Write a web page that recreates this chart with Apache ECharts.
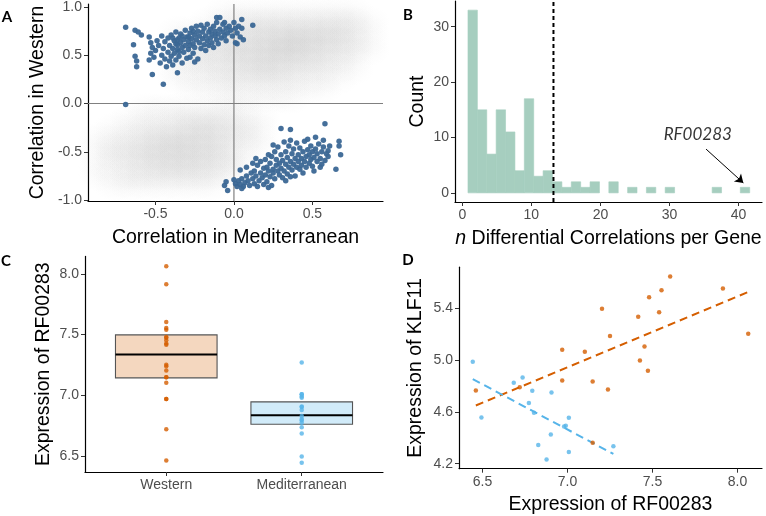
<!DOCTYPE html>
<html><head><meta charset="utf-8">
<script src="https://cdn.jsdelivr.net/npm/echarts@6/dist/echarts.min.js"></script>
<style>html,body{margin:0;padding:0;background:#fff}#c{width:766px;height:516px}</style>
</head><body><div id="c"></div>
<script>
// ---------- Panel A data ----------
const upperClusterPts = [
[-0.69,0.79],[-0.64,0.61],[-0.63,0.49],[-0.62,0.44],[-0.62,0.38],[-0.63,0.76],[-0.61,0.74],[-0.59,0.71],[-0.52,0.30],[-0.45,0.20],[-0.36,0.32],[-0.69,-0.01],
[-0.54,0.69],[-0.53,0.63],[-0.52,0.58],[-0.54,0.45],[-0.53,0.52],[-0.51,0.48],[-0.50,0.55],[-0.49,0.65],[-0.48,0.60],[-0.47,0.42],[-0.46,0.50],[-0.46,0.70],[-0.45,0.57],[-0.44,0.46],[-0.44,0.64],[-0.43,0.38],[-0.42,0.53],[-0.42,0.68],[-0.41,0.44],[-0.41,0.60],[-0.40,0.49],[-0.40,0.71],[-0.39,0.57],[-0.39,0.40],
[-0.38,0.65],[-0.38,0.52],[-0.37,0.74],[-0.37,0.45],[-0.36,0.61],[-0.36,0.56],[-0.35,0.68],[-0.35,0.49],[-0.34,0.63],[-0.34,0.72],[-0.33,0.58],[-0.33,0.42],[-0.32,0.66],[-0.32,0.53],[-0.31,0.76],[-0.31,0.60],[-0.30,0.69],[-0.30,0.47],[-0.35,0.54],[-0.37,0.62],[-0.33,0.70],[-0.39,0.68],[-0.36,0.66],
[-0.29,0.64],[-0.29,0.56],[-0.28,0.73],[-0.28,0.60],[-0.27,0.78],[-0.27,0.67],[-0.26,0.52],[-0.26,0.62],[-0.25,0.71],[-0.25,0.58],[-0.24,0.80],[-0.24,0.66],[-0.23,0.75],[-0.23,0.46],[-0.22,0.63],[-0.22,0.70],[-0.21,0.57],[-0.21,0.81],[-0.20,0.67],[-0.20,0.74],[-0.28,0.48],[-0.25,0.43],[-0.29,0.69],[-0.26,0.75],
[-0.19,0.61],[-0.19,0.78],[-0.18,0.70],[-0.18,0.55],[-0.17,0.65],[-0.17,0.82],[-0.16,0.74],[-0.16,0.60],[-0.15,0.68],[-0.15,0.77],[-0.14,0.63],[-0.14,0.72],[-0.13,0.80],[-0.13,0.58],[-0.12,0.70],[-0.12,0.75],[-0.11,0.66],[-0.11,0.84],[-0.10,0.72],[-0.10,0.62],[-0.11,0.89],[-0.09,0.89],
[-0.09,0.77],[-0.08,0.68],[-0.07,0.74],[-0.07,0.82],[-0.06,0.70],[-0.05,0.78],[-0.05,0.65],[-0.04,0.73],[-0.03,0.80],[-0.02,0.76],[-0.01,0.70],[0.00,0.84],[0.01,0.78],[0.02,0.73],[0.02,0.62],[0.03,0.80],[0.04,0.69],[0.05,0.87],[0.05,0.78],[0.06,0.66],[0.12,0.81],[-0.06,0.84],[0.01,0.63]
];
const lowerClusterPts = [
[0.58,-0.21],[0.30,-0.26],[0.67,-0.39],[0.67,-0.44],[0.68,-0.53],[0.65,-0.68],[-0.05,-0.81],[-0.06,-0.85],[-0.04,-0.90],[0.04,-0.69],[0.36,-0.27],[0.47,-0.37],[0.52,-0.35],[0.61,-0.44],[0.56,-0.63],[0.51,-0.70],[0.60,-0.49],[0.60,-0.55],
[0.01,-0.83],[0.02,-0.86],[0.03,-0.80],[0.04,-0.84],[0.05,-0.78],[0.06,-0.86],[0.07,-0.82],[0.08,-0.75],[0.09,-0.80],[0.10,-0.85],[0.00,-0.79],[0.05,-0.88],[0.08,-0.66],[0.11,-0.72],
[0.12,-0.78],[0.13,-0.83],[0.13,-0.70],[0.14,-0.75],[0.15,-0.64],[0.15,-0.86],[0.16,-0.80],[0.17,-0.72],[0.17,-0.60],[0.18,-0.77],[0.19,-0.67],[0.19,-0.84],[0.20,-0.74],[0.20,-0.58],[0.12,-0.62],[0.14,-0.57],
[0.21,-0.81],[0.21,-0.66],[0.22,-0.70],[0.22,-0.87],[0.23,-0.76],[0.23,-0.62],[0.24,-0.55],[0.24,-0.85],[0.25,-0.68],[0.25,-0.72],[0.26,-0.50],[0.26,-0.78],[0.27,-0.64],[0.27,-0.58],[0.28,-0.70],[0.28,-0.45],[0.29,-0.74],[0.29,-0.62],[0.30,-0.53],[0.30,-0.67],[0.25,-0.43],[0.22,-0.53],
[0.31,-0.77],[0.31,-0.59],[0.32,-0.40],[0.32,-0.70],[0.33,-0.63],[0.33,-0.50],[0.34,-0.73],[0.34,-0.56],[0.35,-0.44],[0.35,-0.66],[0.36,-0.60],[0.36,-0.38],[0.37,-0.69],[0.37,-0.52],[0.38,-0.63],[0.38,-0.47],[0.39,-0.57],[0.39,-0.75],[0.40,-0.66],[0.40,-0.41],[0.33,-0.80],[0.36,-0.76],
[0.41,-0.53],[0.41,-0.60],[0.42,-0.68],[0.42,-0.46],[0.43,-0.57],[0.43,-0.64],[0.44,-0.50],[0.44,-0.72],[0.45,-0.60],[0.45,-0.39],[0.46,-0.55],[0.46,-0.66],[0.47,-0.48],[0.48,-0.62],[0.48,-0.53],[0.49,-0.58],[0.49,-0.44],[0.50,-0.65],[0.50,-0.50],
[0.51,-0.56],[0.52,-0.47],[0.53,-0.60],[0.53,-0.52],[0.54,-0.42],[0.55,-0.57],[0.56,-0.50],[0.57,-0.45],[0.58,-0.59],[0.59,-0.52],[0.55,-0.66],[0.57,-0.38]
];
// background cloud: density read on a 0.1 grid
const cloudXs = [-0.85,-0.75,-0.65,-0.55,-0.45,-0.35,-0.25,-0.15,-0.05,0.05,0.15,0.25,0.35,0.45,0.55,0.65,0.75,0.85];
const cloudYs = [0.95,0.85,0.75,0.65,0.55,0.45,0.35,0.25,0.15,0.05,-0.05,-0.15,-0.25,-0.35,-0.45,-0.55,-0.65,-0.75,-0.85,-0.95];
const cloudDensity = [
[0,0,0,0,0,0,0,0,1,1,1,1,1,1,1,1,1,0],
[0,0,0,0,0,0,0,1,1,2,2,2,2,2,2,2,2,1],
[0,0,0,0,0,1,1,1,2,2,3,3,3,3,3,3,2,1],
[0,0,0,0,0,1,1,2,2,3,3,3,4,4,3,3,2,1],
[0,0,0,0,0,1,2,2,3,3,3,4,4,3,3,2,2,1],
[0,0,0,0,0,1,2,2,2,3,3,3,3,3,2,2,1,0],
[0,0,0,0,0,1,1,2,2,2,3,3,2,2,2,1,1,0],
[0,0,0,0,0,1,1,1,2,2,2,2,2,1,1,1,0,0],
[0,0,0,0,0,0,1,1,1,1,1,1,1,1,1,0,0,0],
[0,0,0,0,0,0,0,0,1,1,1,1,1,0,0,0,0,0],
[0,0,0,1,1,1,1,1,1,1,0,0,0,0,0,0,0,0],
[0,0,1,1,1,2,2,2,2,1,1,0,0,0,0,0,0,0],
[0,1,1,2,2,2,3,3,2,2,1,0,0,0,0,0,0,0],
[1,1,2,2,3,3,3,3,2,2,1,0,0,0,0,0,0,0],
[1,2,2,3,3,4,3,3,2,1,1,0,0,0,0,0,0,0],
[1,2,2,3,3,3,3,3,2,1,0,0,0,0,0,0,0,0],
[1,1,2,2,3,3,3,2,2,1,0,0,0,0,0,0,0,0],
[1,1,2,2,2,2,2,2,1,0,0,0,0,0,0,0,0,0],
[0,1,1,1,1,1,1,1,0,0,0,0,0,0,0,0,0,0],
[0,0,0,0,0,0,0,0,0,0,0,0,0,0,0,0,0,0]
];
const aTicks = [-1.0,-0.5,0.0,0.5,1.0];
const aXTicks = [-0.5,0.0,0.5];

// ---------- Panel B data ----------
const histCounts = [33,15,7,15,11,4,17,3,4,2,1,2,1,2,0,2,0,1,0,1,0,1,0,0,0,0,1,0,0,1];
const histStart = 0.82;
const histBinWidth = 1.36;
const thresholdN = 13.2;
const annotText = 'RF00283';
const annotPos = [34.1, 10.5];
const arrowFrom = [35.3, 7.9];
const arrowTo = [40.7, 1.8];
const bXTicks = [0,10,20,30,40];
const bYTicks = [0,10,20,30];

// ---------- Panels C & D data ----------
const groups = ['Western','Mediterranean'];
const westernRF  = [6.461,6.719,6.969,6.969,7.102,7.148,7.148,7.203,7.238,7.250,7.416,7.426,7.453,7.473,7.480,7.539,7.553,7.604,7.914,8.063];
const westernKLF = [4.765,4.791,4.843,5.080,5.064,4.835,4.361,5.397,4.773,5.186,5.335,4.997,5.106,4.918,5.485,5.369,5.539,5.647,5.554,5.204];
const medRF  = [6.443,6.494,6.684,6.736,6.793,6.773,6.803,6.906,6.902,6.828,6.877,6.980,6.990,7.008,7.008,7.270];
const medKLF = [4.987,4.557,4.825,4.866,4.763,4.668,4.593,4.750,4.425,4.345,4.232,4.487,4.492,4.554,4.291,4.335];
const boxQ1 = [7.143,6.760];
const boxMedian = [7.335,6.835];
const boxQ3 = [7.497,6.945];
const cYTicks = [6.5,7.0,7.5,8.0];
const dXTicks = [6.5,7.0,7.5,8.0];
const dYTicks = [4.2,4.6,5.0,5.4];

// ---------- styling ----------
const FONT = '"Liberation Sans", Arial, sans-serif';
const ORANGE = '#D55E00', BLUE = '#56B4E9';
const BOXFILL = ['rgba(213,94,0,0.25)','rgba(86,180,233,0.27)'];

function mkAxis(o){
  return {
    type:'value', gridIndex:o.grid, min:o.min, max:o.max,
    name:o.name||'', nameLocation:'middle', nameGap:o.gap||30, nameRotate:o.rot||0,
    nameTextStyle:Object.assign({color:'#000',fontSize:19.5,fontFamily:FONT}, o.nameStyle||{}),
    splitLine:{show:false},
    axisLine:{show:true,onZero:false,lineStyle:{color:'#000',width:1.2}},
    axisTick:{show:true,length:4,customValues:o.ticks,lineStyle:{color:'#333',width:1}},
    axisLabel:{show:true,customValues:o.ticks,formatter:o.fmt,color:'#4d4d4d',fontSize:14,fontFamily:FONT,margin:6,hideOverlap:false}
  };
}
const f1 = v => v.toFixed(1);
const f0 = v => String(Math.round(v));

const A = {xmin:-0.93,xmax:0.95,ymin:-1.01,ymax:1.03};
const B = {xmin:-1.06,xmax:43.4,ymin:-1.65,ymax:34.65};
const C = {xmin:0.4,xmax:2.6,ymin:6.367,ymax:8.144};
const D = {xmin:6.362,xmax:8.144,ymin:4.161,ymax:5.718};

// cloud data: soft radial blobs, intensity from the density grid
function blob(d){
  const a = Math.min(1, d*0.065);
  return {type:'radial', x:0.5, y:0.5, r:0.5, colorStops:[
    {offset:0, color:'rgba(175,175,175,'+a+')'},
    {offset:0.5, color:'rgba(175,175,175,'+(a*0.6)+')'},
    {offset:1, color:'rgba(175,175,175,0)'}]};
}
const cloudData = [];
cloudYs.forEach((y,r)=>cloudXs.forEach((x,c)=>{
  const d = cloudDensity[r][c];
  if (d>0) cloudData.push({value:[x,y], itemStyle:{color:blob(d)}});
}));

// histogram rectangles
const histData = [];
histCounts.forEach((c,i)=>{ if(c>0) histData.push([histStart+i*histBinWidth, histStart+(i+1)*histBinWidth, c]); });

// least squares fit
function fit(xs, ys){
  const n=xs.length; let mx=0,my=0; for(let i=0;i<n;i++){mx+=xs[i];my+=ys[i];} mx/=n; my/=n;
  let sxy=0,sxx=0; for(let i=0;i<n;i++){sxy+=(xs[i]-mx)*(ys[i]-my); sxx+=(xs[i]-mx)**2;}
  const b=sxy/sxx, a=my-b*mx; const x0=Math.min(...xs), x1=Math.max(...xs);
  return [[x0,a+b*x0],[x1,a+b*x1]];
}

const chart = echarts.init(document.getElementById('c'), null, {renderer:'canvas'});
chart.setOption({
  animation:false,
  backgroundColor:'#fff',
  grid:[
    {left:88, top:3, width:295, height:198},
    {left:455, top:1, width:307, height:201},
    {left:85, top:256.4, width:298, height:215.6},
    {left:459, top:267.2, width:303, height:201.5}
  ],
  xAxis:[
    mkAxis({grid:0,min:A.xmin,max:A.xmax,ticks:aXTicks,fmt:f1,name:'Correlation in Mediterranean',gap:27}),
    mkAxis({grid:1,min:B.xmin,max:B.xmax,ticks:bXTicks,fmt:f0,name:'{i|n} Differential Correlations per Gene',gap:27,
      nameStyle:{rich:{i:{fontStyle:'italic',fontSize:19.5,fontFamily:FONT,color:'#000'}}}}),
    mkAxis({grid:2,min:C.xmin,max:C.xmax,ticks:[1,2],fmt:v=>groups[Math.round(v)-1]}),
    mkAxis({grid:3,min:D.xmin,max:D.xmax,ticks:dXTicks,fmt:f1,name:'Expression of RF00283',gap:26})
  ],
  yAxis:[
    mkAxis({grid:0,min:A.ymin,max:A.ymax,ticks:aTicks,fmt:f1,name:'Correlation in Western',gap:40,rot:90}),
    mkAxis({grid:1,min:B.ymin,max:B.ymax,ticks:bYTicks,fmt:f0,name:'Count',gap:27,rot:90}),
    mkAxis({grid:2,min:C.ymin,max:C.ymax,ticks:cYTicks,fmt:f1,name:'Expression of RF00283',gap:31,rot:90}),
    mkAxis({grid:3,min:D.ymin,max:D.ymax,ticks:dYTicks,fmt:f1,name:'Expression of KLF11',gap:33,rot:90})
  ],
  series:[
    // ---- A ----
    {type:'scatter', xAxisIndex:0, yAxisIndex:0, data:cloudData, symbolSize:[46,32], silent:true, z:1, clip:true},
    {type:'line', xAxisIndex:0, yAxisIndex:0, data:[[A.xmin,0],[A.xmax,0]], symbol:'none', silent:true, z:2,
      lineStyle:{color:'#808080',width:1.2}},
    {type:'line', xAxisIndex:0, yAxisIndex:0, data:[[0,A.ymin],[0,A.ymax]], symbol:'none', silent:true, z:2,
      lineStyle:{color:'#808080',width:1.2}},
    {type:'scatter', xAxisIndex:0, yAxisIndex:0, data:upperClusterPts.concat(lowerClusterPts), symbolSize:5.5, z:3,
      itemStyle:{color:'#3b6795', opacity:0.95}},
    // ---- B ----
    {type:'custom', xAxisIndex:1, yAxisIndex:1, data:histData, encode:{x:[0,1],y:2}, z:2,
      renderItem:(params, api)=>{
        const p0 = api.coord([api.value(0), api.value(2)]);
        const p1 = api.coord([api.value(1), 0]);
        return {type:'rect', shape:{x:p0[0], y:p0[1], width:p1[0]-p0[0], height:p1[1]-p0[1]},
          style:{fill:'#a6cebf', stroke:'#a6cebf', lineWidth:0.6}};
      }},
    {type:'line', xAxisIndex:1, yAxisIndex:1, data:[[thresholdN,B.ymin],[thresholdN,B.ymax]], symbol:'none', silent:true, z:3,
      lineStyle:{color:'#000',width:2,type:[4,3]}},
    {type:'scatter', xAxisIndex:1, yAxisIndex:1, data:[annotPos], symbolSize:1, silent:true, z:4,
      itemStyle:{color:'rgba(0,0,0,0)'},
      label:{show:true, position:'inside', formatter:annotText, fontStyle:'italic', fontSize:17, fontFamily:'Lato, "Open Sans", sans-serif', color:'#000'},
      markLine:{silent:true, symbol:['none','arrow'], symbolSize:8, label:{show:false},
        lineStyle:{color:'#000',width:1,type:'solid'}, data:[[{coord:arrowFrom},{coord:arrowTo}]]}},
    // ---- C ----
    {type:'custom', xAxisIndex:2, yAxisIndex:2, data:groups.map((g,i)=>[i+1, boxQ1[i], boxMedian[i], boxQ3[i]]),
      encode:{x:0,y:[1,2,3]}, z:2,
      renderItem:(params, api)=>{
        const x=api.value(0), hw=0.375;
        const tl=api.coord([x-hw, api.value(3)]), br=api.coord([x+hw, api.value(1)]);
        const ml=api.coord([x-hw, api.value(2)]), mr=api.coord([x+hw, api.value(2)]);
        return {type:'group', children:[
          {type:'rect', shape:{x:tl[0],y:tl[1],width:br[0]-tl[0],height:br[1]-tl[1]},
            style:{fill:BOXFILL[params.dataIndex], stroke:'#555', lineWidth:1.1}},
          {type:'line', shape:{x1:ml[0],y1:ml[1],x2:mr[0],y2:mr[1]}, style:{stroke:'#000',lineWidth:2}}
        ]};
      }},
    {type:'scatter', xAxisIndex:2, yAxisIndex:2, data:westernRF.map(v=>[1,v]), symbolSize:4.5, z:3, itemStyle:{color:ORANGE}},
    {type:'scatter', xAxisIndex:2, yAxisIndex:2, data:medRF.map(v=>[2,v]), symbolSize:4.5, z:3, itemStyle:{color:BLUE}},
    // ---- D ----
    {type:'scatter', xAxisIndex:3, yAxisIndex:3, data:westernRF.map((v,i)=>[v,westernKLF[i]]), symbolSize:4.5, z:3, itemStyle:{color:ORANGE}},
    {type:'scatter', xAxisIndex:3, yAxisIndex:3, data:medRF.map((v,i)=>[v,medKLF[i]]), symbolSize:4.5, z:3, itemStyle:{color:BLUE}},
    {type:'line', xAxisIndex:3, yAxisIndex:3, data:fit(westernRF,westernKLF), symbol:'none', silent:true, z:2,
      lineStyle:{color:ORANGE,width:2,type:[8,5]}},
    {type:'line', xAxisIndex:3, yAxisIndex:3, data:fit(medRF,medKLF), symbol:'none', silent:true, z:2,
      lineStyle:{color:BLUE,width:2,type:[8,5]}}
  ],
  graphic:[
    {type:'text', x:7, y:17, style:{text:'A', font:'bold 15px Lato, "Open Sans", sans-serif', fill:'#000', textAlign:'center', textVerticalAlign:'middle'}},
    {type:'text', x:408, y:15, style:{text:'B', font:'bold 15px Lato, "Open Sans", sans-serif', fill:'#000', textAlign:'center', textVerticalAlign:'middle'}},
    {type:'text', x:6, y:261, style:{text:'C', font:'bold 15px Lato, "Open Sans", sans-serif', fill:'#000', textAlign:'center', textVerticalAlign:'middle'}},
    {type:'text', x:408, y:260, style:{text:'D', font:'bold 15px Lato, "Open Sans", sans-serif', fill:'#000', textAlign:'center', textVerticalAlign:'middle'}}
  ]
});
</script></body></html>
